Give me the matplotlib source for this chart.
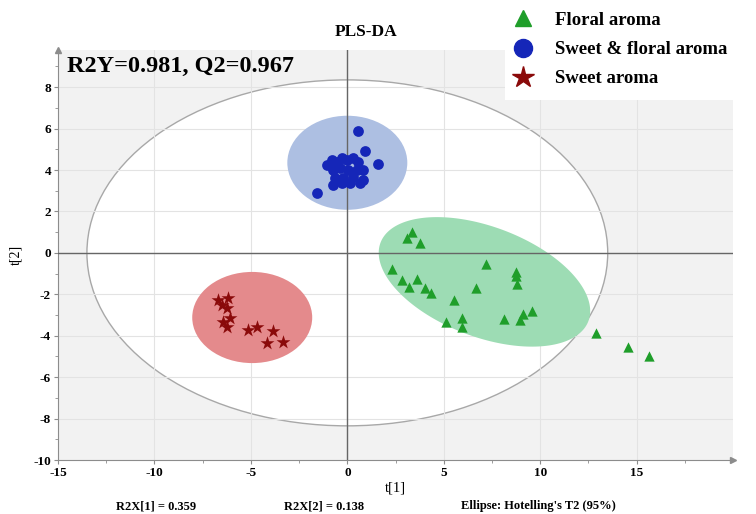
import numpy as np
import matplotlib
matplotlib.use("Agg")
import matplotlib.pyplot as plt
from matplotlib.patches import Ellipse, Polygon, Rectangle
from matplotlib.lines import Line2D

plt.rcParams['font.family'] = ['Liberation Serif', 'DejaVu Serif']
plt.rcParams['font.weight'] = 'bold'
plt.rcParams['axes.unicode_minus'] = False

# score values t[1], t[2] for each aroma group
floral_t1 = [3.37, 3.11, 3.79, 2.34, 2.85, 3.63, 3.22, 4.05, 4.36, 7.21, 8.72, 8.72, 8.82,
             6.69, 5.55, 5.14, 5.97, 5.97, 8.10, 8.93, 9.13, 9.55, 12.87, 14.53, 15.62]
floral_t2 = [1.02, 0.73, 0.48, -0.77, -1.31, -1.26, -1.64, -1.69, -1.94, -0.53, -1.11, -0.90, -1.50,
             -1.69, -2.27, -3.34, -3.14, -3.58, -3.19, -3.24, -2.95, -2.81, -3.87, -4.55, -4.98]

sweet_floral_t1 = [0.57, 0.93, 1.61, -1.56, -1.04, -0.78, -0.52, -0.26, 0.00, 0.31, 0.57,
                   -0.73, -0.36, 0.05, 0.52, 0.83, -0.62, -0.21, 0.31, 0.83, -0.73, -0.26, 0.16, 0.67]
sweet_floral_t2 = [5.90, 4.93, 4.31, 2.90, 4.26, 4.50, 4.40, 4.60, 4.50, 4.60, 4.40,
                   4.02, 4.11, 4.02, 4.02, 4.02, 3.63, 3.63, 3.68, 3.53, 3.29, 3.39, 3.39, 3.39]

sweet_t1 = [-6.69, -6.18, -6.49, -6.23, -6.43, -6.07, -6.23, -5.14, -4.67, -3.84, -4.15, -3.32]
sweet_t2 = [-2.27, -2.18, -2.52, -2.66, -3.34, -3.14, -3.58, -3.73, -3.58, -3.77, -4.35, -4.31]

# confidence ellipses: centre and semi axes
hotelling = (0.0, 0.0, 13.5, 8.35)
sf_ellipse = (0.0, 4.35, 3.11, 2.27)
sweet_ellipse = (-4.93, -3.12, 3.11, 2.20)
# tilted floral ellipse: centre and the two half-axis vectors
floral_centre = (7.11, -1.40)
floral_u = (5.39, -1.89)
floral_v = (1.00, 2.49)

c_green, c_green_fill = '#1f9e2a', '#9ddcb4'
c_blue, c_blue_fill = '#1526b8', '#adbfe2'
c_red, c_red_fill = '#8a0a0a', '#e48a8c'

fig = plt.figure(figsize=(7.56, 5.14), dpi=100)
ax = fig.add_axes([0.0767, 0.105, 0.893, 0.798])
ax.set_facecolor('#f2f2f2')
ax.set_xlim(-15, 20)
ax.set_ylim(-10, 9.8)

# Hotelling T2 ellipse
cx, cy, a, b = hotelling
ax.add_patch(Ellipse((cx, cy), 2 * a, 2 * b, facecolor='white', edgecolor='#a8a8a8', lw=1.0, zorder=1))

ax.set_xticks(np.arange(-15, 16, 5))
ax.set_yticks(np.arange(-10, 9, 2))
ax.set_xticks(np.arange(-15, 20, 2.5), minor=True)
ax.set_yticks(np.arange(-10, 9.5, 1), minor=True)
ax.grid(True, which='major', color='#e3e3e3', lw=0.8)
ax.set_axisbelow('line')

for (ex, ey, ea, eb), fc in [(sf_ellipse, c_blue_fill), (sweet_ellipse, c_red_fill)]:
    ax.add_patch(Ellipse((ex, ey), 2 * ea, 2 * eb, facecolor=fc, edgecolor='none', zorder=2))

t = np.linspace(0, 2 * np.pi, 200)
fx = floral_centre[0] + np.cos(t) * floral_u[0] + np.sin(t) * floral_v[0]
fy = floral_centre[1] + np.cos(t) * floral_u[1] + np.sin(t) * floral_v[1]
ax.add_patch(Polygon(np.column_stack([fx, fy]), closed=True, facecolor=c_green_fill,
                     edgecolor='none', zorder=2))

ax.axhline(0, color='#666666', lw=1.0, zorder=3)
ax.axvline(0, color='#666666', lw=1.0, zorder=3)

ax.scatter(floral_t1, floral_t2, marker='^', s=55, color=c_green, zorder=4, linewidths=0)
ax.scatter(sweet_floral_t1, sweet_floral_t2, marker='o', s=60, color=c_blue, zorder=4, linewidths=0)
ax.scatter(sweet_t1, sweet_t2, marker='*', s=110, color=c_red, zorder=4, linewidths=0)

for s in ['top', 'right']:
    ax.spines[s].set_visible(False)
for s in ['left', 'bottom']:
    ax.spines[s].set_color('#8c8c8c')
ax.plot(0, 1, marker='^', ms=5, color='#8c8c8c', transform=ax.transAxes, clip_on=False)
ax.plot(1, 0, marker='>', ms=5, color='#8c8c8c', transform=ax.transAxes, clip_on=False)

ax.tick_params(which='major', length=3, color='#8c8c8c', labelsize=9.5, pad=2)
ax.tick_params(which='minor', length=2, color='#8c8c8c')
for lab in ax.get_xticklabels() + ax.get_yticklabels():
    lab.set_fontweight('bold')

ax.set_xlabel('t[1]', fontsize=10.5, fontweight='normal', labelpad=2)
ax.set_ylabel('t[2]', fontsize=10, fontweight='normal', labelpad=8)

# white box behind the legend
fig.add_artist(Rectangle((0.668, 0.805), 0.332, 0.195, transform=fig.transFigure,
                         facecolor='white', edgecolor='none', zorder=5))

handles = [
    Line2D([], [], ls='none', marker='^', ms=12, color=c_green),
    Line2D([], [], ls='none', marker='o', ms=13, color=c_blue),
    Line2D([], [], ls='none', marker='*', ms=16, color=c_red),
]
labels = ['Floral aroma', 'Sweet & floral aroma', 'Sweet aroma']
leg = fig.legend(handles, labels, loc='upper left', bbox_to_anchor=(0.657, 1.01),
                 frameon=False, prop={'size': 13.5, 'weight': 'bold'},
                 handletextpad=1.2, labelspacing=0.65, handlelength=1.0)
leg.set_zorder(6)

fig.text(0.484, 0.938, 'PLS-DA', ha='center', va='center', fontsize=12.5, fontweight='bold')
fig.text(0.0886, 0.870, 'R2Y=0.981, Q2=0.967', ha='left', va='center', fontsize=17.5,
         fontweight='bold')

fig.text(0.206, 0.003, 'R2X[1] = 0.359', ha='center', va='bottom', fontsize=9, fontweight='bold')
fig.text(0.428, 0.003, 'R2X[2] = 0.138', ha='center', va='bottom', fontsize=9, fontweight='bold')
fig.text(0.712, 0.003, "Ellipse: Hotelling's T2 (95%)", ha='center', va='bottom', fontsize=9,
         fontweight='bold')

fig.savefig('out.png', dpi=100, facecolor='white')
